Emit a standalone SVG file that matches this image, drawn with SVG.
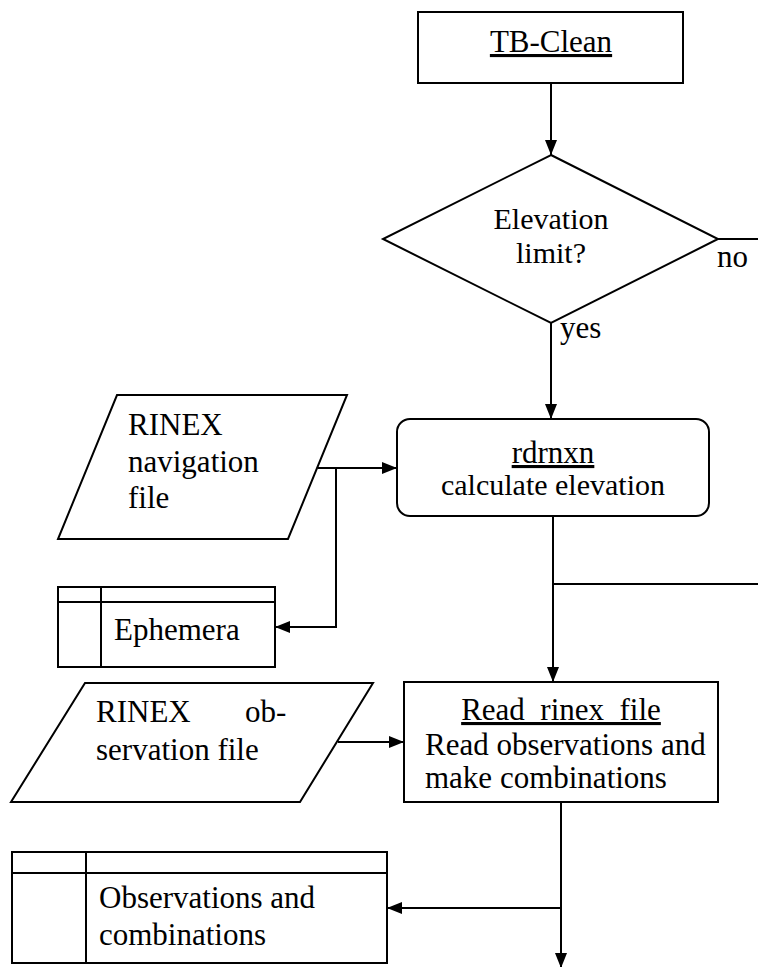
<svg xmlns="http://www.w3.org/2000/svg" width="758" height="967" viewBox="0 0 758 967">
  <style>
    .shape { fill: #fff; stroke: #000; stroke-width: 2; }
    .line { fill: none; stroke: #000; stroke-width: 2; }
    .c { text-anchor: middle; }
    .u { text-decoration: underline; }
  </style>
  <defs>
    <marker id="arrow" viewBox="0 0 15 12" refX="15" refY="6" markerWidth="15" markerHeight="12" markerUnits="userSpaceOnUse" orient="auto">
      <path d="M0,0 L15,6 L0,12 Z" fill="#000"/>
    </marker>
  </defs>

  <rect width="758" height="967" fill="#fff"/>

  <!-- connectors -->
  <g id="connectors">
    <line class="line" x1="551" y1="83" x2="551" y2="155" marker-end="url(#arrow)"/>
    <line class="line" x1="718" y1="239" x2="758" y2="239"/>
    <line class="line" x1="551" y1="323" x2="551" y2="419" marker-end="url(#arrow)"/>
    <line class="line" x1="318" y1="468" x2="397" y2="468" marker-end="url(#arrow)"/>
    <polyline class="line" points="336,468 336,627 275,627" marker-end="url(#arrow)"/>
    <line class="line" x1="553" y1="516" x2="553" y2="682" marker-end="url(#arrow)"/>
    <line class="line" x1="553" y1="584" x2="758" y2="584" stroke-width="1.5"/>
    <line class="line" x1="338" y1="742" x2="404" y2="742" marker-end="url(#arrow)"/>
    <line class="line" x1="561" y1="802" x2="561" y2="968" marker-end="url(#arrow)"/>
    <line class="line" x1="561" y1="908" x2="387" y2="908" marker-end="url(#arrow)"/>
  </g>

  <g font-family="'Liberation Serif', 'DejaVu Serif', serif" font-size="31" fill="#000">
    <!-- start process -->
    <g id="tb-clean">
      <rect class="shape" x="418" y="12" width="265" height="71"/>
      <text class="c u" x="551" y="52">TB-Clean</text>
    </g>

    <!-- decision -->
    <g id="elevation-limit">
      <polygon class="shape" points="551,155 718,239 551,323 383,239"/>
      <text class="c" x="551" y="229" font-size="30">Elevation</text>
      <text class="c" x="551" y="263" font-size="30">limit?</text>
      <text x="717" y="267">no</text>
      <text x="560" y="338">yes</text>
    </g>

    <!-- navigation input -->
    <g id="rinex-nav">
      <polygon class="shape" points="117,395 347,395 288,539 58,539"/>
      <text x="128" y="435">RINEX</text>
      <text x="128" y="472">navigation</text>
      <text x="128" y="508">file</text>
    </g>

    <!-- elevation routine -->
    <g id="rdrnxn">
      <rect class="shape" x="397" y="419" width="312" height="97" rx="13" ry="13"/>
      <text class="c u" x="553" y="463">rdrnxn</text>
      <text class="c" x="553" y="495" font-size="30">calculate elevation</text>
    </g>

    <!-- ephemera store -->
    <g id="ephemera">
      <rect class="shape" x="58" y="587" width="217" height="80"/>
      <line class="line" x1="58" y1="602" x2="275" y2="602"/>
      <line class="line" x1="101" y1="587" x2="101" y2="667"/>
      <text x="114" y="640">Ephemera</text>
    </g>

    <!-- observation input -->
    <g id="rinex-obs">
      <polygon class="shape" points="85,683 373,683 300,802 11,802"/>
      <text x="96" y="722">RINEX</text>
      <text x="245" y="722">ob-</text>
      <text x="96" y="760">servation file</text>
    </g>

    <!-- reader routine -->
    <g id="read-rinex-file">
      <rect class="shape" x="404" y="682" width="314" height="120"/>
      <text class="c u" x="561" y="720">Read_rinex_file</text>
      <text x="425" y="755">Read observations and</text>
      <text x="425" y="788">make combinations</text>
    </g>

    <!-- observations store -->
    <g id="observations">
      <rect class="shape" x="12" y="852" width="375" height="111"/>
      <line class="line" x1="12" y1="873" x2="387" y2="873"/>
      <line class="line" x1="86" y1="852" x2="86" y2="963"/>
      <text x="99" y="908">Observations and</text>
      <text x="99" y="945">combinations</text>
    </g>
  </g>
</svg>
